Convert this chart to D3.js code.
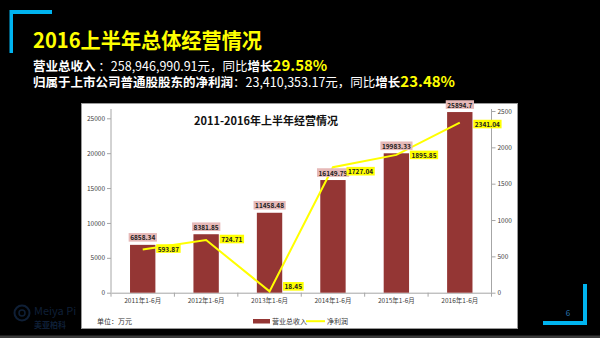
<!DOCTYPE html>
<html><head><meta charset="utf-8">
<script src="https://cdn.jsdelivr.net/npm/d3@7"></script>
<style>html,body{margin:0;padding:0;background:#000;}svg{display:block;}</style>
</head><body>
<script>
const categories = ["2011年1-6月","2012年1-6月","2013年1-6月","2014年1-6月","2015年1-6月","2016年1-6月"];
const revenue = [6858.34, 8381.85, 11458.48, 16149.79, 19983.33, 25894.7];
const revenueLabels = ["6858.34","8381.85","11458.48","16149.79","19983.33","25894.7"];
const profit = [593.87, 724.71, 18.45, 1727.04, 1895.85, 2341.04];
const profitLabels = ["593.87","724.71","18.45","1727.04","1895.85","2341.04"];
const leftTicks = [0, 5000, 10000, 15000, 20000, 25000];
const rightTicks = [0, 500, 1000, 1500, 2000, 2500];
const seriesNames = ["营业总收入", "净利润"];

const W = 600, H = 338;
const font = "'Noto Sans CJK SC','Noto Sans',sans-serif";
const svg = d3.select("body").append("svg").attr("width", W).attr("height", H);
svg.append("rect").attr("width", W).attr("height", H).attr("fill", "#000");
svg.append("rect").attr("x",0).attr("y",335.5).attr("width",W).attr("height",3).attr("fill","#3a3a3a");

// corner brackets
const cyan = "#00B4F0";
svg.append("path").attr("d","M9.5,10 H52 V14 H13 V53 H9.5 Z").attr("fill",cyan);
svg.append("path").attr("d","M583,284 H587 V325 H543 V321 H583 Z").attr("fill",cyan);
svg.append("text").attr("x",568).attr("y",316).attr("text-anchor","middle").attr("font-family",font)
  .attr("font-size",8).attr("fill","#2a7ab8").text("6");

// logo (faint)
const logo = svg.append("g").attr("opacity",0.55);
logo.append("circle").attr("cx",22).attr("cy",313).attr("r",7.5).attr("fill","none").attr("stroke","#1c3a63").attr("stroke-width",2);
logo.append("circle").attr("cx",22).attr("cy",313).attr("r",3).attr("fill","none").attr("stroke","#1c3a63").attr("stroke-width",1.5);
logo.append("text").attr("x",34).attr("y",315).attr("font-family",font).attr("font-size",11).attr("fill","#1c3a63").text("Meiya Pi");
logo.append("text").attr("x",34).attr("y",328).attr("font-family",font).attr("font-size",8).attr("font-weight","bold").attr("fill","#1c3a63").text("美亚柏科");

// headings
svg.append("text").attr("x",33).attr("y",48).attr("font-family",font).attr("font-size",21).attr("font-weight","bold")
  .attr("textLength",229).attr("lengthAdjust","spacingAndGlyphs")
  .attr("fill","#FFFF00").text("2016上半年总体经营情况");
const l2 = svg.append("text").attr("x",33).attr("y",71).attr("font-family",font).attr("font-size",12.5).attr("fill","#fff");
l2.append("tspan").attr("font-weight","bold").text("营业总收入");
l2.append("tspan").text(" ：258,946,990.91元，同比");
l2.append("tspan").attr("font-weight","bold").text("增长");
l2.append("tspan").attr("font-size",15).attr("font-weight","bold").attr("fill","#FFFF00").text("29.58%");
const l3 = svg.append("text").attr("x",33).attr("y",87).attr("font-family",font).attr("font-size",12.5).attr("fill","#fff");
l3.append("tspan").attr("font-weight","bold").text("归属于上市公司普通股股东的净利润");
l3.append("tspan").text("：23,410,353.17元，同比");
l3.append("tspan").attr("font-weight","bold").text("增长");
l3.append("tspan").attr("font-size",15).attr("font-weight","bold").attr("fill","#FFFF00").text("23.48%");

// chart panel
svg.append("rect").attr("x",81.5).attr("y",103.5).attr("width",436).attr("height",225)
  .attr("fill","#fff").attr("stroke","#9a9a9a").attr("stroke-width",1);

const plotL = 111, plotR = 491.5, plotT = 111, plotB = 292.7;
const x = d3.scaleBand().domain(categories).range([plotL, plotR]).paddingInner(0.6).paddingOuter(0.3);
const xc = d3.scaleBand().domain(categories).range([plotL, plotR]);
const yL = d3.scaleLinear().domain([0, 26046]).range([plotB, plotT]);
const yR = d3.scaleLinear().domain([0, 2500]).range([plotB, plotT]);

svg.append("text").attr("x",266).attr("y",125).attr("text-anchor","middle").attr("font-family",font)
  .attr("font-size",11).attr("font-weight","bold").attr("fill","#111").text("2011-2016年上半年经营情况");

// axes
const axisColor = "#a6a6a6", tickText = "#404040";
const gL = svg.append("g").attr("transform",`translate(${plotL},0)`)
  .call(d3.axisLeft(yL).tickValues(leftTicks).tickSize(4).tickSizeOuter(0).tickFormat(d3.format("d")));
const gR = svg.append("g").attr("transform",`translate(${plotR},0)`)
  .call(d3.axisRight(yR).tickValues(rightTicks).tickSize(4).tickSizeOuter(0).tickFormat(d3.format("d")));
[gL,gR].forEach(g=>{
  g.select(".domain").attr("stroke",axisColor).attr("d", `M0,${plotB}V${plotT-2}`);
  g.selectAll(".tick line").attr("stroke",axisColor);
  g.selectAll(".tick text").attr("font-family",font).attr("font-size",6.5).attr("fill",tickText);
});
gL.selectAll(".tick text").attr("x",-6);
gR.selectAll(".tick text").attr("x",6);

// x axis
const gX = svg.append("g").attr("transform",`translate(0,${plotB})`)
  .call(d3.axisBottom(xc).tickSize(0).tickSizeOuter(0));
gX.select(".domain").attr("stroke",axisColor);
gX.selectAll(".tick text").attr("font-family",font).attr("font-size",6.5).attr("fill",tickText).attr("dy","1.1em");
gX.selectAll(".sep").data(d3.range(categories.length+1)).join("line").attr("class","sep")
  .attr("x1",i=>plotL + i*xc.step()).attr("x2",i=>plotL + i*xc.step()).attr("y1",0).attr("y2",4).attr("stroke",axisColor);

// bars
const barColor = "#943634";
svg.append("g").selectAll("rect").data(revenue).join("rect")
  .attr("x",(d,i)=>x(categories[i])).attr("width",x.bandwidth())
  .attr("y",d=>yL(d)).attr("height",d=>plotB - yL(d)).attr("fill",barColor);

// line
const line = d3.line().x((d,i)=>xc(categories[i]) + xc.bandwidth()/2).y(d=>yR(d));
svg.append("path").datum(profit).attr("d",line).attr("fill","none").attr("stroke","#FFFF00").attr("stroke-width",2);

// labels helper
function boxLabel(g, cx, cy, txt, bg, anchor) {
  const t = g.append("text").attr("font-family",font).attr("font-size",6.5).attr("font-weight","bold")
    .attr("fill","#222").attr("dominant-baseline","central").attr("text-anchor",anchor).attr("x",cx).attr("y",cy).text(txt);
  const bb = t.node().getBBox();
  g.insert("rect", () => t.node()).attr("x",bb.x-1.5).attr("y",cy-4.3).attr("width",bb.width+3).attr("height",8.6).attr("fill",bg);
}
const lab = svg.append("g");
revenue.forEach((d,i)=>{
  const cx = x(categories[i]) + x.bandwidth()/2;
  boxLabel(lab, cx, yL(d)-7.5, revenueLabels[i], "#E6B9B8", "middle");
});
const pdy = [-1, -1, -5, 4, 0, 1.5];
profit.forEach((d,i)=>{
  const px = xc(categories[i]) + xc.bandwidth()/2;
  boxLabel(lab, px+15, yR(d)+pdy[i], profitLabels[i], "#FFFF00", "start");
});

// legend & unit
svg.append("text").attr("x",97).attr("y",324).attr("font-family",font).attr("font-size",7).attr("fill","#333").text("单位：万元");
svg.append("rect").attr("x",253).attr("y",319).attr("width",17).attr("height",4.5).attr("fill",barColor);
svg.append("text").attr("x",272).attr("y",324).attr("font-family",font).attr("font-size",7).attr("fill","#333").text(seriesNames[0]);
svg.append("line").attr("x1",306).attr("x2",325).attr("y1",321.2).attr("y2",321.2).attr("stroke","#FFFF00").attr("stroke-width",2);
svg.append("text").attr("x",327).attr("y",324).attr("font-family",font).attr("font-size",7).attr("fill","#333").text(seriesNames[1]);
</script>
</body></html>
